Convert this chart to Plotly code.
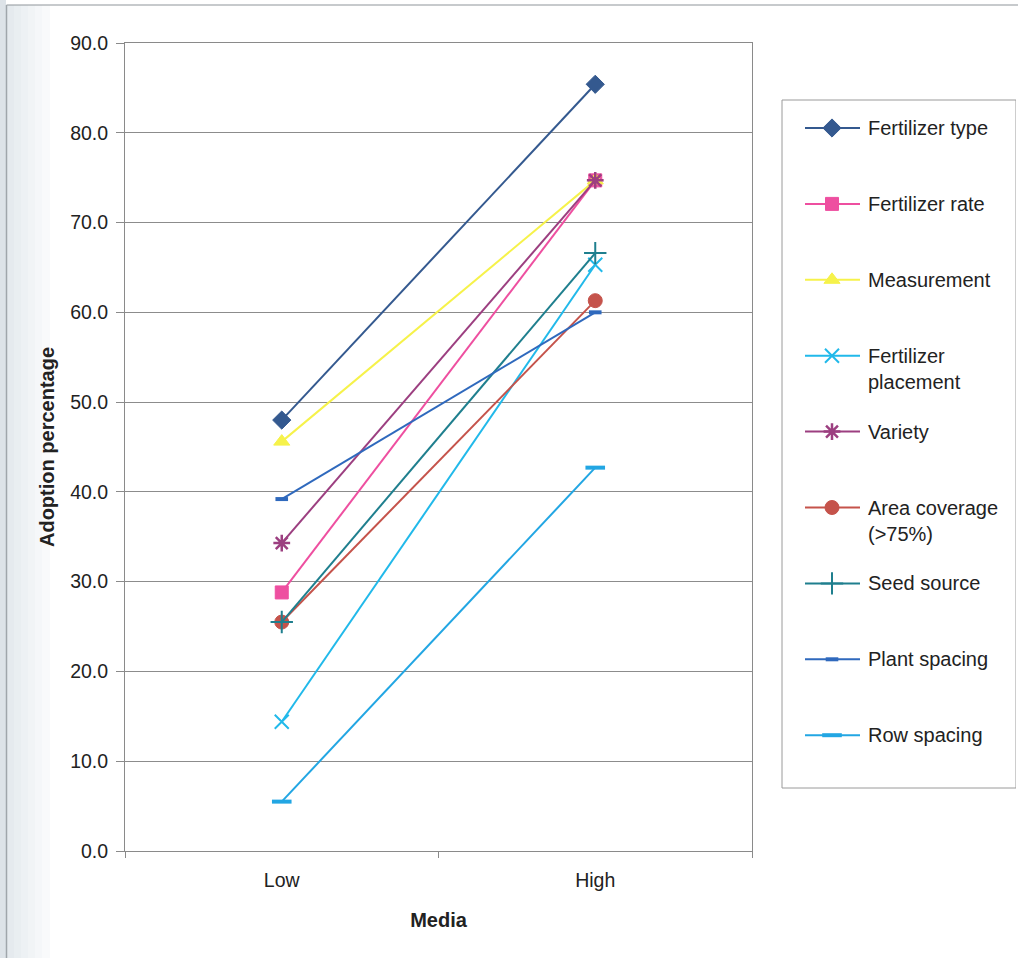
import plotly.graph_objects as go

# Media exposure levels and adoption percentages per practice
levels = ["Low", "High"]
level_pos = [0.5, 1.5]

fertilizer_type = [48.0, 85.4]
fertilizer_rate = [28.8, 74.7]
measurement = [45.6, 74.7]
fertilizer_placement = [14.4, 65.3]
variety = [34.3, 74.7]
area_coverage = [25.5, 61.3]
seed_source = [25.5, 66.6]
plant_spacing = [39.2, 60.0]
row_spacing = [5.5, 42.7]

y_ticks = [0, 10, 20, 30, 40, 50, 60, 70, 80, 90]

# name, values, colour, marker symbol, marker size, marker line width
series = [
    ("Fertilizer type", fertilizer_type, "#34598f", "diamond", 14, 1),
    ("Fertilizer rate", fertilizer_rate, "#ee4fa0", "square", 13, 1),
    ("Measurement", measurement, "#f6f24a", "triangle-up", 14, 1),
    ("Fertilizer<br>placement", fertilizer_placement, "#21b9ea", "x-thin-open", 14, 2),
    ("Variety", variety, "#9c3f80", "asterisk-open", 14, 2.5),
    ("Area coverage<br>(>75%)", area_coverage, "#c5534b", "circle", 14, 1),
    ("Seed source", seed_source, "#1f7f8e", "cross-thin-open", 16, 2),
    ("Plant spacing", plant_spacing, "#2f69bd", "line-ew-open", 9, 4),
    ("Row spacing", row_spacing, "#22a6e3", "line-ew-open", 14, 4),
]

W, H = 1018, 958
ML, MR, MT, MB = 125, 2, 43, 107
PLOT_RIGHT = 752                      # right edge of the data area, px
pw = W - ML - MR


def px_x(px):
    return (px - ML) / pw


def px_y(py):
    return (H - MB - py) / (H - MT - MB)


fig = go.Figure()
for name, vals, color, symbol, size, mlw in series:
    fig.add_trace(go.Scatter(
        x=level_pos, y=vals, name=name, mode="lines+markers",
        line=dict(color=color, width=2),
        marker=dict(symbol=symbol, size=size, color=color,
                    line=dict(color=color, width=mlw)),
        showlegend=False, xaxis="x", yaxis="y",
    ))

# Key panel drawn on a pixel-scaled helper axis pair
KEY_LEFT, KEY_RIGHT, KEY_TOP, KEY_BOTTOM = 782, 1016, 100, 788
ROW0, ROW_STEP = 128, 75.9
annotations = []
for i, (name, vals, color, symbol, size, mlw) in enumerate(series):
    ry = ROW0 + ROW_STEP * i
    fig.add_trace(go.Scatter(
        x=[805, 860], y=[ry, ry], mode="lines",
        line=dict(color=color, width=2),
        showlegend=False, hoverinfo="skip", xaxis="x2", yaxis="y2",
    ))
    fig.add_trace(go.Scatter(
        x=[832], y=[ry], mode="markers",
        marker=dict(symbol=symbol, size=size, color=color,
                    line=dict(color=color, width=mlw)),
        showlegend=False, hoverinfo="skip", xaxis="x2", yaxis="y2",
    ))
    two_line = "<br>" in name
    annotations.append(dict(
        x=866, y=ry - 13 if two_line else ry, xref="x2", yref="y2",
        text=name, showarrow=False, xanchor="left",
        yanchor="top" if two_line else "middle", align="left",
        font=dict(size=20, color="#222222"),
    ))

# soft shading along the left edge of the page
edge_bands = [(7, 14, "#e5eaee"), (14, 21, "#e9eef1"), (21, 28, "#edf1f4"),
              (28, 35, "#f1f4f6"), (35, 42, "#f5f7f9"), (42, 50, "#f9fafb")]
shapes = [dict(type="rect", xref="paper", yref="paper", x0=px_x(0), x1=px_x(6),
               y0=px_y(H), y1=px_y(0), fillcolor="#dde3e8", line=dict(width=0),
               layer="below")]
for a, b, c in edge_bands:
    shapes.append(dict(type="rect", xref="paper", yref="paper", x0=px_x(a), x1=px_x(b),
                       y0=px_y(H), y1=px_y(5), fillcolor=c, line=dict(width=0),
                       layer="below"))
shapes += [
    # outer chart frame (top and left edges)
    dict(type="line", xref="paper", yref="paper", x0=px_x(6.5), x1=px_x(W),
         y0=px_y(5), y1=px_y(5), line=dict(color="#8f959a", width=1)),
    dict(type="line", xref="paper", yref="paper", x0=px_x(6.5), x1=px_x(6.5),
         y0=px_y(5), y1=px_y(H), line=dict(color="#a0a6ab", width=1.5)),
    # key panel border
    dict(type="rect", xref="x2", yref="y2", x0=KEY_LEFT, x1=KEY_RIGHT,
         y0=KEY_TOP, y1=KEY_BOTTOM, line=dict(color="#9a9a9a", width=1),
         fillcolor="rgba(0,0,0,0)"),
]

fig.update_layout(
    width=W, height=H,
    margin=dict(l=ML, r=MR, t=MT, b=MB),
    paper_bgcolor="white", plot_bgcolor="rgba(0,0,0,0)",
    font=dict(family="Liberation Sans, Arial, sans-serif", size=19.5, color="#222222"),
    showlegend=False,
    xaxis=dict(
        domain=[0, px_x(PLOT_RIGHT)],
        range=[0, 2], tickvals=level_pos, ticktext=levels, ticks="",
        showgrid=False, zeroline=False, ticklabelstandoff=12,
        showline=True, linecolor="#8a8a8a", linewidth=1, mirror=True,
        minor=dict(tickvals=[0, 1, 2], ticks="outside", ticklen=6,
                   tickcolor="#8a8a8a", showgrid=False),
        title=dict(text="<b>Media</b>", font=dict(size=20), standoff=22),
    ),
    yaxis=dict(
        range=[0, 90], tickvals=y_ticks, tickformat=".1f",
        ticks="outside", ticklen=8, tickcolor="#8a8a8a", ticklabelstandoff=4,
        showgrid=True, gridcolor="#8c8c8c", gridwidth=1,
        zeroline=False, showline=True, linecolor="#8a8a8a", linewidth=1, mirror=True,
        title=dict(text="<b>Adoption percentage</b>", font=dict(size=20), standoff=10),
    ),
    xaxis2=dict(domain=[0, 1], range=[ML, W - MR], anchor="y2", visible=False,
                fixedrange=True),
    yaxis2=dict(domain=[0, 1], range=[H - MB, MT], anchor="x2", visible=False,
                fixedrange=True),
    annotations=annotations,
    shapes=shapes,
)

fig.write_html("out.html")
